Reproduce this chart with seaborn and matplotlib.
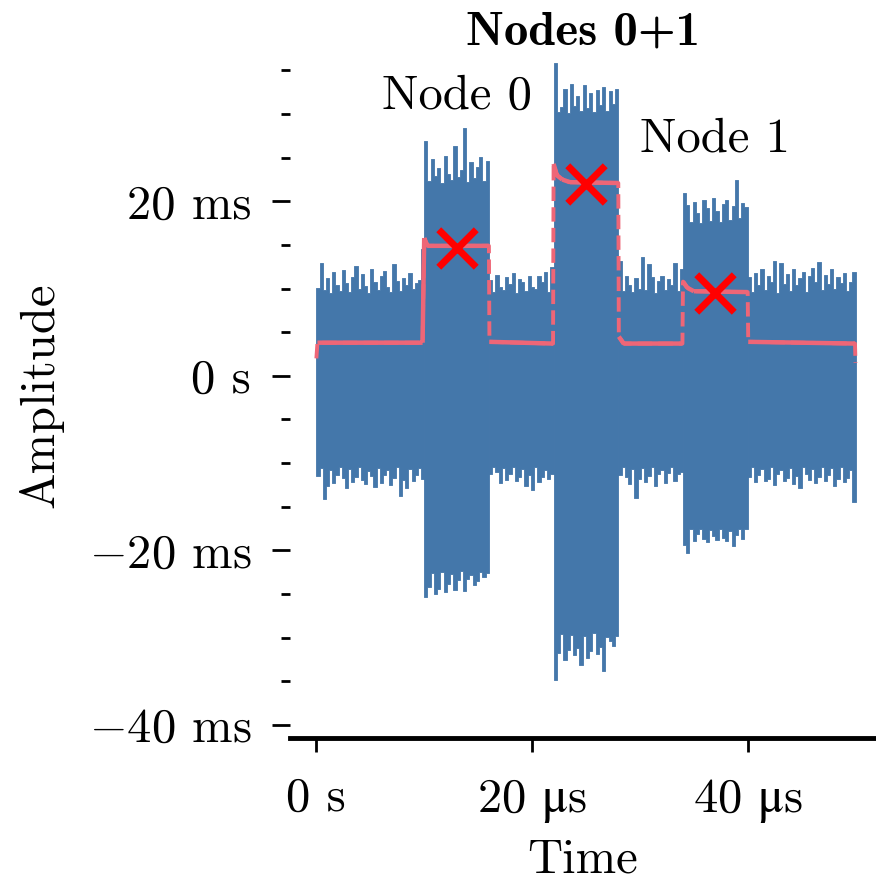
import numpy as np
import matplotlib.pyplot as plt
import seaborn as sns
from matplotlib.ticker import MultipleLocator

# --- Data (time in µs, amplitude in ms) ---
# quiet / node 0 / quiet / nodes 0+1 / quiet / node 1 / quiet
seg_edges = [0, 10, 16, 22, 28, 34, 40, 50]

# upper / lower envelope of the raw signal, per segment (equal-width bins)
peaks_top = [
    [10.1, 12.9, 9.8, 11.2, 9.5, 11.9, 10.4, 9.7, 12.1, 10.6, 9.6, 11.3, 12.6, 9.9, 11.7, 10.3, 9.5,
     12.3, 10.7, 9.8, 11.4, 12.0, 10.2, 9.6, 12.8, 10.9, 9.7, 11.2, 10.4, 11.8, 9.9, 10.6, 11.0, 14.5],
    [26.9, 22.3, 24.8, 22.9, 23.8, 22.1, 25.2, 23.1, 22.4, 26.3, 22.8, 23.6, 28.4, 22.2, 24.5, 22.7, 23.9,
     25.1, 22.3, 24.6],
    [11.0, 9.6, 11.6, 10.2, 9.8, 11.3, 10.5, 11.8, 9.5, 11.1, 10.7, 9.7, 11.5, 10.2, 9.9, 11.4, 10.8,
     11.9, 9.6, 12.5],
    [35.8, 30.2, 30.8, 32.9, 30.1, 33.4, 30.9, 32.1, 30.3, 33.3, 30.7, 32.4, 30.2, 32.8, 31.0, 33.1, 30.4,
     32.6, 31.2, 32.9],
    [13.2, 9.7, 11.5, 10.4, 9.6, 11.2, 10.0, 13.6, 9.8, 12.8, 11.3, 9.5, 10.9, 11.4, 9.8, 11.1, 10.4,
     12.9, 9.7, 12.3],
    [21.0, 19.6, 17.6, 19.9, 18.7, 17.5, 20.1, 19.2, 17.8, 20.4, 18.9, 17.6, 19.7, 20.2, 17.9, 19.5, 22.4,
     18.1, 19.8, 19.4],
    [11.3, 9.6, 11.8, 10.4, 12.2, 9.8, 11.5, 10.7, 13.2, 9.5, 12.9, 10.5, 11.7, 9.7, 12.3, 10.4, 11.2,
     11.9, 9.6, 11.4, 12.4, 10.8, 13.1, 9.8, 11.6, 10.5, 12.2, 9.9, 11.3, 10.6, 11.8, 9.7, 10.7, 11.9],
]
peaks_bot = [
    [-11.5, -10.6, -14.1, -12.6, -10.8, -12.3, -11.4, -10.5, -11.7, -12.9, -10.7, -12.2, -11.6, -10.4, -11.9,
     -12.4, -10.9, -11.5, -12.7, -10.6, -12.3, -11.4, -10.8, -12.5, -11.7, -10.5, -13.8, -11.9, -12.8, -10.7,
     -12.1, -11.4, -10.6, -11.8],
    [-25.3, -24.2, -22.6, -25.0, -24.4, -22.5, -24.8, -23.9, -22.7, -24.5, -23.4, -22.4, -24.6, -23.3, -22.8,
     -24.0, -23.5, -22.5, -23.1, -22.6],
    [-11.2, -10.5, -11.0, -12.3, -10.6, -11.9, -11.3, -10.4, -12.1, -11.6, -10.7, -12.6, -11.4, -13.1, -10.5,
     -12.2, -11.6, -10.8, -11.8, -11.3],
    [-34.9, -31.8, -29.6, -32.6, -31.4, -29.7, -32.0, -31.2, -33.1, -29.8, -32.3, -31.5, -29.5, -31.9, -31.1,
     -33.8, -29.9, -30.4, -31.0, -29.8],
    [-11.4, -10.5, -11.6, -12.4, -10.7, -14.0, -11.8, -10.6, -12.2, -11.5, -10.4, -12.6, -11.3, -10.8, -12.3,
     -11.1, -10.5, -12.1, -11.3, -11.0],
    [-19.4, -20.3, -17.6, -18.9, -18.1, -17.5, -18.7, -19.0, -17.7, -18.4, -18.8, -17.6, -18.6, -18.9, -17.8,
     -19.5, -18.2, -17.5, -18.7, -17.6],
    [-11.6, -10.5, -12.2, -11.4, -10.7, -12.0, -11.8, -10.4, -12.5, -11.3, -10.8, -12.1, -11.7, -10.6, -12.4,
     -11.5, -12.8, -10.5, -11.2, -11.9, -10.7, -12.3, -11.6, -10.4, -12.0, -11.4, -10.6, -12.6, -11.8, -10.5,
     -12.2, -11.7, -10.8, -14.4],
]

# smoothed level (red trace)
env_time = [0, 0.1, 9.85, 10.0, 10.3, 16.0, 16.05, 21.95, 22.0, 22.3, 22.8, 23.5, 28.0, 28.05, 28.5,
            33.95, 34.0, 34.4, 35.0, 40.0, 40.05, 49.95, 50.0]
env_level = [2.0, 3.8, 3.8, 15.8, 14.9, 14.9, 3.9, 3.7, 24.3, 23.0, 22.5, 22.2, 22.1, 4.5, 3.7,
             3.7, 10.8, 10.1, 9.7, 9.6, 3.9, 3.7, 1.5]

mark_time = [13, 25, 37]
mark_level = [14.6, 22.0, 9.5]

node_names = ["Node 0", "Node 1"]
node_time = [13, 37]
node_level = [30.6, 25.7]

x_ticks = [0, 20, 40]
x_tick_labels = ["0 s", r"20 $\mathrm{\mu}$s", r"40 $\mathrm{\mu}$s"]
y_ticks = [-40, -20, 0, 20]
y_tick_labels = ["$-$40 ms", "$-$20 ms", "0 s", "20 ms"]

blue = "#4477AA"
pink = "#EE6677"

sns.set_theme(style="ticks", rc={"text.color": "black", "axes.labelcolor": "black",
                                 "xtick.color": "black", "ytick.color": "black"})
plt.rcParams["font.family"] = ["cmr10", "DejaVu Serif"]
plt.rcParams["mathtext.fontset"] = "cm"
plt.rcParams["axes.unicode_minus"] = False
plt.rcParams["font.size"] = 35

fig = plt.figure(figsize=(8.76, 8.82), dpi=100)
ax = fig.add_axes([0.331, 0.1633, 0.669, 0.7766])

# blue signal drawn as a skyline between the lower and upper envelopes
for i in range(len(peaks_top)):
    a, b = seg_edges[i], seg_edges[i + 1]
    top = np.append(peaks_top[i], peaks_top[i][-1])
    bot = np.append(peaks_bot[i], peaks_bot[i][-1])
    edges = np.linspace(a, b, len(top))
    ax.fill_between(edges, bot, top, step="post", color=blue, lw=0.6, edgecolor=blue)

# red level: dashed jumps, solid plateaus
sns.lineplot(x=env_time, y=env_level, estimator=None, sort=False, color=pink,
             lw=2.8, ls="--", ax=ax)
solid_t, solid_v = [], []
for j in range(len(env_time) - 1):
    dt = env_time[j + 1] - env_time[j]
    if dt >= 0.1 and j > 0:
        solid_t += [env_time[j], env_time[j + 1], np.nan]
        solid_v += [env_level[j], env_level[j + 1], np.nan]
ax.plot(solid_t, solid_v, color=pink, lw=3.2, solid_capstyle="butt")

sns.scatterplot(x=mark_time, y=mark_level, marker="x", s=27 ** 2, color="#FF0000",
                linewidth=5, ax=ax, zorder=5)

for name, t, v in zip(node_names, node_time, node_level):
    ax.text(t, v, name, ha="center", va="baseline", fontsize=35)

ax.set_xlim(-2.45, 51.9)
ax.set_ylim(-41.5, 37)
ax.set_xticks(x_ticks, labels=x_tick_labels)
ax.set_yticks(y_ticks, labels=y_tick_labels)
for lbl in ax.get_xticklabels():
    lbl.set_math_fontfamily("stix")
ax.yaxis.set_minor_locator(MultipleLocator(5))
ax.tick_params(axis="y", which="major", length=13, width=2, pad=15, labelsize=35)
ax.tick_params(axis="y", which="minor", length=6.5, width=2)
ax.tick_params(axis="x", which="major", length=10, width=2, pad=18, labelsize=35)

for side in ["left", "top", "right"]:
    ax.spines[side].set_visible(False)
ax.spines["bottom"].set_linewidth(3.5)
ax.spines["bottom"].set_color("black")

ax.set_xlabel("Time", fontsize=35, labelpad=10)
ax.set_ylabel("Amplitude", fontsize=35, labelpad=18)
ax.set_title("Nodes 0+1", fontsize=35, fontfamily="cmb10", pad=6)

fig.savefig("out.png", dpi=100)
